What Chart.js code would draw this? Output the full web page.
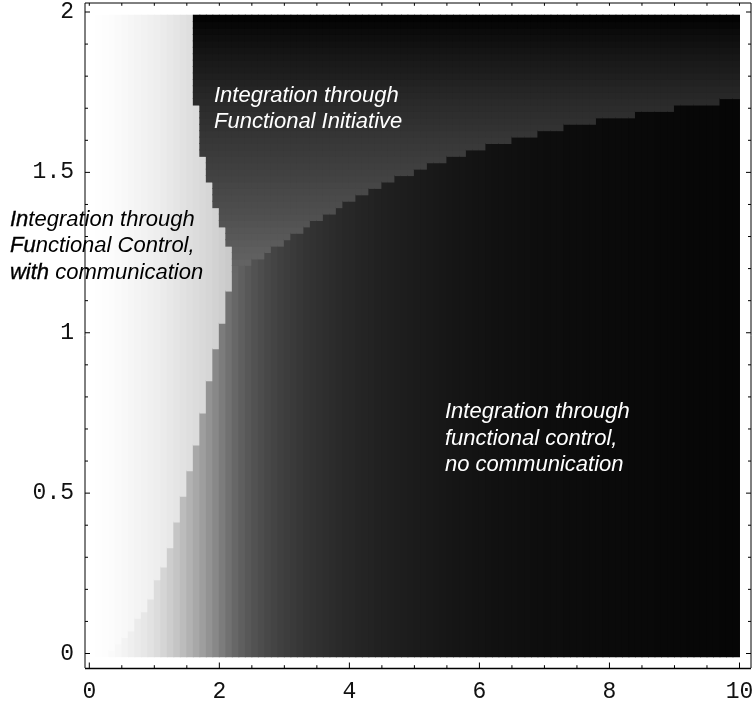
<!DOCTYPE html>
<html>
<head>
<meta charset="utf-8">
<script src="https://cdn.jsdelivr.net/npm/chart.js@4/dist/chart.umd.min.js"></script>
<style>
  html, body { margin: 0; padding: 0; background: #fff; }
  canvas { display: block; }
</style>
</head>
<body>
<canvas id="chart" width="753" height="707"></canvas>
<script>
// column centres of the density grid (x)
const xCenters = [0.05, 0.15, 0.25, 0.35, 0.45, 0.55, 0.65, 0.75, 0.85, 0.95,
  1.05, 1.15, 1.25, 1.35, 1.45, 1.55, 1.65, 1.75, 1.85, 1.95,
  2.05, 2.15, 2.25, 2.35, 2.45, 2.55, 2.65, 2.75, 2.85, 2.95,
  3.05, 3.15, 3.25, 3.35, 3.45, 3.55, 3.65, 3.75, 3.85, 3.95,
  4.05, 4.15, 4.25, 4.35, 4.45, 4.55, 4.65, 4.75, 4.85, 4.95,
  5.05, 5.15, 5.25, 5.35, 5.45, 5.55, 5.65, 5.75, 5.85, 5.95,
  6.05, 6.15, 6.25, 6.35, 6.45, 6.55, 6.65, 6.75, 6.85, 6.95,
  7.05, 7.15, 7.25, 7.35, 7.45, 7.55, 7.65, 7.75, 7.85, 7.95,
  8.05, 8.15, 8.25, 8.35, 8.45, 8.55, 8.65, 8.75, 8.85, 8.95,
  9.05, 9.15, 9.25, 9.35, 9.45, 9.55, 9.65, 9.75, 9.85, 9.95]

// upper edge of the "no communication" region in each column
const rightTop = [-0.01, -0.01, -0.01, 0.01, 0.03, 0.05, 0.07, 0.11, 0.13, 0.17,
  0.23, 0.27, 0.33, 0.41, 0.49, 0.57, 0.65, 0.75, 0.85, 0.95,
  1.03, 1.13, 1.19, 1.21, 1.21, 1.23, 1.23, 1.25, 1.27, 1.27,
  1.29, 1.31, 1.31, 1.33, 1.35, 1.35, 1.37, 1.37, 1.39, 1.41,
  1.41, 1.43, 1.43, 1.45, 1.45, 1.47, 1.47, 1.49, 1.49, 1.49,
  1.51, 1.51, 1.53, 1.53, 1.53, 1.55, 1.55, 1.55, 1.57, 1.57,
  1.57, 1.59, 1.59, 1.59, 1.59, 1.61, 1.61, 1.61, 1.61, 1.63,
  1.63, 1.63, 1.63, 1.65, 1.65, 1.65, 1.65, 1.65, 1.67, 1.67,
  1.67, 1.67, 1.67, 1.67, 1.69, 1.69, 1.69, 1.69, 1.69, 1.69,
  1.71, 1.71, 1.71, 1.71, 1.71, 1.71, 1.71, 1.73, 1.73, 1.73]

// upper edge of the "with communication" region (first columns only)
const leftTop = [1.99, 1.99, 1.99, 1.99, 1.99, 1.99, 1.99, 1.99, 1.99, 1.99,
  1.99, 1.99, 1.99, 1.99, 1.99, 1.99, 1.71, 1.55, 1.47, 1.39,
  1.33, 1.27]

// grey levels (0-255)
const rightShade = [null, null, null, 250, 247, 243, 239, 235, 231, 226,
  220, 213, 205, 197, 188, 178, 168, 158, 147, 136,
  124, 113, 103, 95, 88, 82, 77, 72, 68, 64,
  61, 58, 55, 52, 50, 48, 46, 44, 42, 40,
  39, 37, 36, 35, 33, 32, 31, 30, 29, 28,
  27, 26, 25, 24, 23, 22, 21, 21, 20, 19,
  19, 18, 17, 17, 16, 16, 15, 15, 14, 14,
  13, 13, 13, 12, 12, 12, 11, 11, 11, 10,
  10, 10, 10, 9, 9, 9, 9, 8, 8, 8,
  8, 8, 7, 7, 7, 7, 7, 6, 6, 6]

const leftShade = [255, 254, 253, 252, 250, 248, 246, 244, 242, 240,
  238, 235, 232, 229, 226, 223, 220, 217, 214, 210,
  206, 202]

const topRowY = [1.20, 1.22, 1.24, 1.26, 1.28, 1.30, 1.32, 1.34, 1.36, 1.38,
  1.40, 1.42, 1.44, 1.46, 1.48, 1.50, 1.52, 1.54, 1.56, 1.58,
  1.60, 1.62, 1.64, 1.66, 1.68, 1.70, 1.72, 1.74, 1.76, 1.78,
  1.80, 1.82, 1.84, 1.86, 1.88, 1.90, 1.92, 1.94, 1.96, 1.98]

const topShade = [102, 99, 96, 94, 91, 88, 86, 83, 80, 78,
  76, 74, 72, 70, 67, 65, 63, 61, 59, 57,
  55, 53, 50, 48, 46, 44, 42, 39, 37, 34,
  31, 28, 26, 23, 20, 17, 14, 11, 7, 3]

const xTickLabels = [0, 2, 4, 6, 8, 10]
const yTickLabels = [0, 0.5, 1, 1.5, 2]
const xTickMarks = [0, 0.5, 1, 1.5, 2, 2.5, 3, 3.5, 4, 4.5, 5, 5.5, 6, 6.5, 7, 7.5, 8, 8.5, 9, 9.5, 10]
const yTickMarks = [0, 0.1, 0.2, 0.3, 0.4, 0.5, 0.6, 0.7, 0.8, 0.9, 1, 1.1, 1.2, 1.3, 1.4, 1.5, 1.6, 1.7, 1.8, 1.9, 2]

const notes = [
  { x: -1.22, y: 1.333, color: '#000', lines: ['Integration through', 'Functional Control,', 'with communication'], heavy: ['In', 'Fu', 'with'] },
  { x: 1.918, y: 1.72, color: '#fff', lines: ['Integration through', 'Functional Initiative'] },
  { x: 5.47, y: 0.733, color: '#fff', lines: ['Integration through', 'functional control,', 'no communication'] }
]

const ROW_HALF = 0.01
const GRID_BOTTOM = -0.01

const grey = v => `rgb(${v},${v},${v})`

// build the cells as floating bars
const cells = []
const cellColors = []
xCenters.forEach((x, i) => {
  const rt = rightTop[i]
  if (rt > GRID_BOTTOM) {
    cells.push({ x, y: [GRID_BOTTOM, rt] })
    cellColors.push(grey(rightShade[i]))
  }
  const lt = i < leftTop.length ? leftTop[i] : null
  if (lt !== null) {
    cells.push({ x, y: [rt, lt] })
    cellColors.push(grey(leftShade[i]))
  }
  const roof = lt !== null ? lt : rt
  topRowY.forEach((y, j) => {
    if (y - ROW_HALF >= roof - 1e-6) {
      cells.push({ x, y: [y - ROW_HALF, y + ROW_HALF] })
      cellColors.push(grey(topShade[j]))
    }
  })
})

const framePlugin = {
  id: 'frame',
  afterDraw(chart) {
    const { ctx, chartArea: a, scales: { x, y } } = chart
    ctx.save()
    ctx.strokeStyle = '#000'
    ctx.lineWidth = 1
    ctx.beginPath()
    ctx.moveTo(a.left, a.top); ctx.lineTo(a.left, a.bottom)
    ctx.moveTo(a.right, a.top); ctx.lineTo(a.right, a.bottom)
    ctx.moveTo(a.left, a.top); ctx.lineTo(a.right, a.top)
    ctx.stroke()
    ctx.beginPath()
    ctx.moveTo(a.left, a.bottom + 0.5); ctx.lineTo(a.right, a.bottom + 0.5)
    ctx.lineWidth = 1.3
    ctx.stroke()

    ctx.lineWidth = 1
    ctx.beginPath()
    xTickMarks.forEach(v => {
      const px = x.getPixelForValue(v)
      const len = xTickLabels.includes(v) ? 5.5 : 2.8
      ctx.moveTo(px, a.bottom); ctx.lineTo(px, a.bottom - len)
      ctx.moveTo(px, a.top); ctx.lineTo(px, a.top + 2.8)
    })
    yTickMarks.forEach(v => {
      const py = y.getPixelForValue(v)
      const len = yTickLabels.includes(v) ? 5 : 3
      ctx.moveTo(a.left, py); ctx.lineTo(a.left + len, py)
      ctx.moveTo(a.right, py); ctx.lineTo(a.right - len, py)
    })
    ctx.stroke()
    ctx.restore()
  }
}

const notesPlugin = {
  id: 'notes',
  afterDraw(chart) {
    const { ctx, scales: { x, y } } = chart
    ctx.save()
    ctx.font = 'italic 22px "Liberation Sans", Arial, sans-serif'
    ctx.textAlign = 'left'
    ctx.textBaseline = 'alphabetic'
    notes.forEach(n => {
      const px = x.getPixelForValue(n.x)
      const py = y.getPixelForValue(n.y)
      n.lines.forEach((line, k) => {
        ctx.fillStyle = n.color
        ctx.fillText(line, px, py + k * 26.5)
        if (n.heavy) {
          // the first letters look slightly heavier in the original
          ctx.strokeStyle = n.color
          ctx.lineWidth = 0.35
          ctx.strokeText(n.heavy[k], px, py + k * 26.5)
        }
      })
    })
    ctx.restore()
  }
}

const tickFont = { family: '"Liberation Mono", "Courier New", monospace', size: 23 }
const tickText = v => String(Math.round(v * 100) / 100)

new Chart(document.getElementById('chart'), {
  type: 'bar',
  data: {
    datasets: [{
      data: cells,
      backgroundColor: cellColors,
      borderWidth: 0,
      barPercentage: 1,
      categoryPercentage: 1,
      inflateAmount: 0.5
    }]
  },
  options: {
    responsive: false,
    animation: false,
    events: [],
    layout: { padding: { top: 3, right: 2, left: 0, bottom: 0 } },
    plugins: {
      legend: { display: false },
      tooltip: { enabled: false }
    },
    scales: {
      x: {
        type: 'linear',
        position: 'bottom',
        min: -0.0661,
        max: 10.177,
        offset: false,
        grid: { display: false, drawTicks: false },
        border: { display: false },
        ticks: { stepSize: 2, includeBounds: false, autoSkip: false, maxRotation: 0, color: '#111', font: tickFont, padding: 10, callback: tickText },
        afterFit: s => { s.height = 39; s.paddingLeft = 0; s.paddingRight = 0 }
      },
      y: {
        type: 'linear',
        position: 'left',
        min: -0.0452,
        max: 2.0281,
        grid: { display: false, drawTicks: false },
        border: { display: false },
        ticks: { stepSize: 0.5, includeBounds: false, autoSkip: false, color: '#111', font: tickFont, padding: 11, callback: tickText },
        afterFit: s => { s.width = 85; s.paddingTop = 0; s.paddingBottom = 0 }
      }
    }
  },
  plugins: [framePlugin, notesPlugin]
})
</script>
</body>
</html>
